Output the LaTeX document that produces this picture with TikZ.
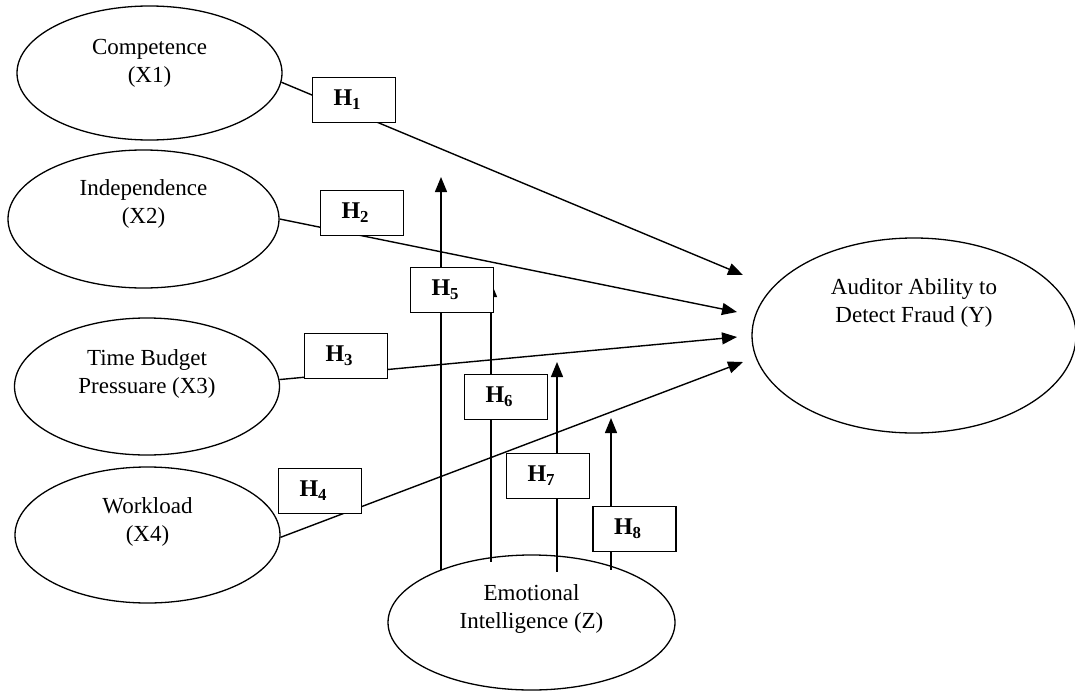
\documentclass[tikz,border=0pt]{standalone}
\usepackage{fontspec}
\setmainfont{Liberation Serif}
\usetikzlibrary{shapes.geometric,arrows.meta,positioning}

\begin{document}
\begin{tikzpicture}[%
    x=1pt, y=1pt,                % one unit is one pixel of the sketch
    >={Triangle[length=15pt,width=12pt]}, % filled heads
    node distance=10pt,          % only used with explicit distances
    line width=1.4pt,
    ]
% -------------------------------------------------
% Box and line styles
\tikzset{
  base/.style={draw, on grid, inner sep=0pt, line width=1.3pt},
  var/.style={base, ellipse, minimum width=265pt, minimum height=134pt},
  txt/.style={align=center, font=\fontsize{23}{28}\selectfont},
  hyp/.style={base, fill=white, minimum height=45pt, text width=41pt,
    inner xsep=21pt, align=left, font=\fontsize{24}{28}\selectfont\bfseries},
  to/.style={->, draw},
}
\useasboundingbox (0,0) rectangle (1075,-693);
% -------------------------------------------------
% Latent variables
\node [var] (x1) at (149.5,-73) {};
\node [var, below = 146pt of x1, xshift=-6pt, minimum width=271pt,
  minimum height=138pt] (x2) {};
\node [var, below = 167.5pt of x2, xshift=3.5pt, minimum height=137pt] (x3) {};
\node [var, below = 148.5pt of x3, xshift=0.5pt, minimum height=136pt] (x4) {};
\node [var, minimum width=324pt, minimum height=195pt] (y) at (914,-335.5) {};
\node [var, minimum width=287pt, minimum height=135pt] (z) at (531.5,-622.5) {};

% Texts sit a little above the middle
\node [txt] (x1t) at ([yshift=9.5pt]x1.center) {Competence\\(X1)};
\node [txt] (x2t) at ([yshift=15pt]x2.center) {Independence\\(X2)};
\node [txt] (x3t) at ([yshift=12.5pt]x3.center) {Time Budget\\Pressuare (X3)};
\node [txt] (x4t) at ([yshift=13.5pt]x4.center) {Workload\\(X4)};
\node [txt] (yt) at ([yshift=33pt]y.center) {Auditor Ability to\\Detect Fraud (Y)};
\node [txt] (zt) at ([yshift=13.5pt]z.center) {Emotional\\Intelligence (Z)};

% Free arrow ends
\coordinate (e1) at (743,-275);
\coordinate (e2) at (737,-312);
\coordinate (e3) at (737,-337);
\coordinate (e4) at (743,-362);
\coordinate (e5) at (441,-177);
\coordinate (e6) at (491,-282);
\coordinate (e7) at (557,-362);
\coordinate (e8) at (611,-418);

% -------------------------------------------------
% Paths (boxes are laid on top afterwards)
\draw[to] (x1.-4) -- (e1);		%Competence,Y
\draw[to] (x2.east) -- (e2);		%Independence,Y
\draw[to] (x3.3) -- (e3);		%Time Budget Pressure,Y
\draw[to] (x4.-1) -- (e4);		%Workload,Y
\draw[to] (e5 |- z.150) -- (e5);		%moderation,H5
\draw[to] (e6 |- z.137) -- (e6);		%moderation,H6
\draw[to] (e7 |- z.152) -- (e7);		%moderation,H7
\draw[to] (e8 |- z.30) -- (e8);		%moderation,H8

% Hypothesis boxes
\node [hyp] (h1) at (354,-100) {H\textsubscript{1}};
\node [hyp, below = 113pt of h1, xshift=8pt] (h2) {H\textsubscript{2}};
\node [hyp, below = 143pt of h2, xshift=-16pt] (h3) {H\textsubscript{3}};
\node [hyp, below = 135pt of h3, xshift=-26pt] (h4) {H\textsubscript{4}};
\node [hyp] (h5) at (452,-290) {H\textsubscript{5}};
\node [hyp, below = 107pt of h5, xshift=54pt] (h6) {H\textsubscript{6}};
\node [hyp, below = 79pt of h6, xshift=42pt] (h7) {H\textsubscript{7}};
\node [hyp, below = 53pt of h7, xshift=86.5pt] (h8) {H\textsubscript{8}};

% -------------------------------------------------
\end{tikzpicture}
\end{document}
